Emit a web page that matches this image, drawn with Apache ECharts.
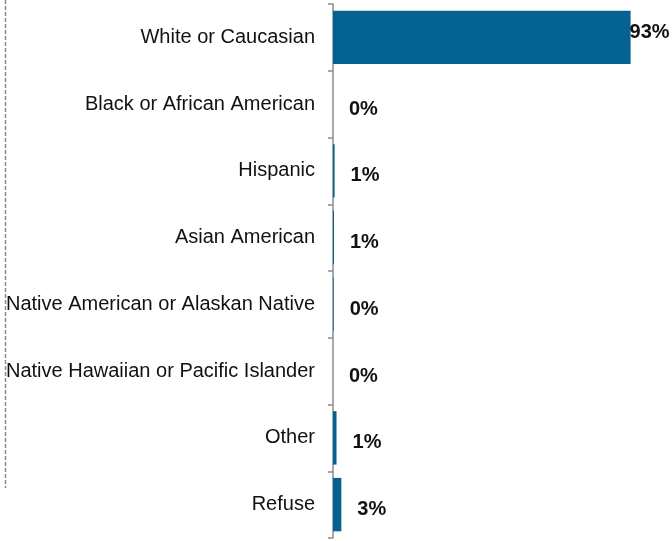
<!DOCTYPE html>
<html>
<head>
<meta charset="utf-8">
<script src="https://cdn.jsdelivr.net/npm/echarts@6/dist/echarts.min.js"></script>
<style>html,body{margin:0;padding:0;background:#fff}#c{width:672px;height:541px}</style>
</head>
<body>
<div id="c"></div>
<script>
const categories = ["White or Caucasian","Black or African American","Hispanic","Asian American","Native American or Alaskan Native","Native Hawaiian or Pacific Islander","Other","Refuse"];
const values = [93, 0, 0.5, 0.3, 0.2, 0, 1.1, 2.6];
const valueLabels = ["93%","0%","1%","1%","0%","0%","1%","3%"];

const chart = echarts.init(document.getElementById('c'));
const data = values.map((v, i) => {
  const item = { value: v };
  if (i === 0) item.label = { distance: -1, offset: [0, -5] };
  return item;
});
chart.setOption({
  animation: false,
  grid: { left: 333, right: 19, top: 4, bottom: 3 },
  xAxis: { type: 'value', min: 0, max: 100, show: false },
  yAxis: {
    type: 'category', data: categories, inverse: true,
    axisLine: { show: true, lineStyle: { color: '#8c8c8c', width: 1.5 } },
    axisTick: { show: true, length: 5, lineStyle: { color: '#8c8c8c', width: 1.5 } },
    axisLabel: { margin: 18, color: '#111', fontSize: 20, fontFamily: 'Liberation Sans, Arial, sans-serif' }
  },
  graphic: [{
    type: 'line', shape: { x1: 5.5, y1: 0, x2: 5.5, y2: 488 },
    style: { stroke: '#8c8c8c', lineWidth: 1.5, lineDash: [4, 2] }
  }],
  series: [{
    type: 'bar', data: data, barCategoryGap: '20%',
    itemStyle: { color: '#03628f' },
    label: {
      show: true, position: 'right', distance: 16, offset: [0, 5],
      formatter: p => valueLabels[p.dataIndex],
      color: '#111', fontSize: 20, fontWeight: 'bold', fontFamily: 'Liberation Sans, Arial, sans-serif'
    }
  }]
});
</script>
</body>
</html>
